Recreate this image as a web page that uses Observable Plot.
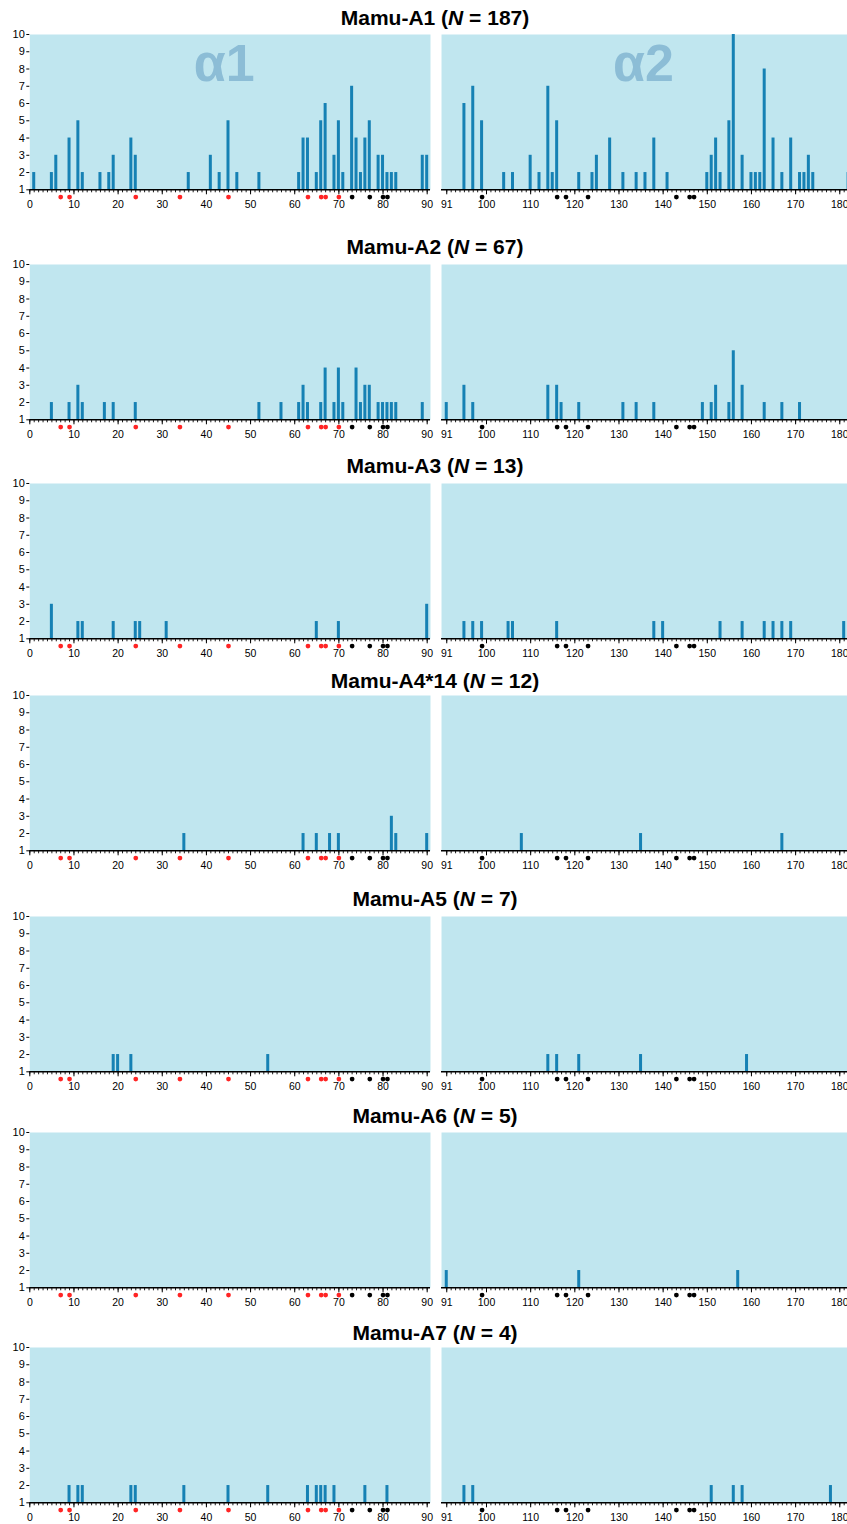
<!DOCTYPE html>
<html>
<head>
<meta charset="utf-8">
<script src="https://cdn.jsdelivr.net/npm/d3@7"></script>
<script src="https://cdn.jsdelivr.net/npm/@observablehq/plot@0.6"></script>
<style>
  html, body { margin: 0; padding: 0; background: #fff; overflow: hidden; }
  #root { position: relative; width: 847px; height: 1524px; font-family: "Liberation Sans", Arial, sans-serif; }
  .title { position: absolute; transform: translate(-50%, -50%); white-space: nowrap; font-weight: bold; font-size: 21px; color: #000; }
</style>
</head>
<body>
<div id="root"></div>
<script>
// ---------------- data ----------------
const alleles = ["Mamu-A1", "Mamu-A2", "Mamu-A3", "Mamu-A4*14", "Mamu-A5", "Mamu-A6", "Mamu-A7"];
const sampleN = [187, 67, 13, 12, 7, 5, 4];

const a1Sites = [1,5,6,9,11,12,16,18,19,23,24,36,41,43,45,47,52,61,62,63,65,66,67,69,70,71,73,74,75,76,77,79,80,81,82,83,89,90,
                 95,97,99,104,106,110,112,114,115,116,121,124,125,128,131,134,136,138,141,150,151,152,153,155,156,158,160,161,162,163,165,167,169,171,172,173,174,182];
const a1Counts = [2,2,3,4,5,2,2,2,3,4,3,2,3,2,5,2,2,2,4,4,2,5,6,3,5,2,7,4,2,4,5,3,3,2,2,2,3,3,
                  6,7,5,2,2,3,2,7,2,5,2,2,3,4,2,2,2,4,2,2,3,4,2,5,10,3,2,2,2,8,4,2,4,2,2,3,2,2];

const a2Sites = [5,9,11,12,17,19,24,52,57,61,62,63,66,67,69,70,71,74,75,76,77,79,80,81,82,83,89,
                 91,95,97,114,116,117,121,131,134,138,149,151,152,155,156,158,163,167,171];
const a2Counts = [2,2,3,2,2,2,2,2,2,2,3,2,2,4,2,4,2,4,2,3,3,2,2,2,2,2,2,
                  2,3,2,3,3,2,2,2,2,2,2,2,3,2,5,3,2,2,2];

const a3Sites = [5,11,12,19,24,25,31,65,70,90,
                 95,97,99,105,106,116,138,140,153,158,163,165,167,169,181];
const a3Counts = [3,2,2,2,2,2,2,2,2,3,
                  2,2,2,2,2,2,2,2,2,2,2,2,2,2,2];

const a4Sites = [35,62,65,68,70,82,83,90,108,135,167];
const a4Counts = [2,2,2,2,2,3,2,2,2,2,2];

const a5Sites = [19,20,23,54,114,116,121,135,159];
const a5Counts = [2,2,2,2,2,2,2,2,2];

const a6Sites = [91,121,157];
const a6Counts = [2,2,2];

const a7Sites = [9,11,12,23,24,35,45,54,63,65,66,67,69,76,81,95,97,151,156,158,178];
const a7Counts = [2,2,2,2,2,2,2,2,2,2,2,2,2,2,2,2,2,2,2,2,2];

const redSites = [7,9,24,34,45,63,66,67,70];
const blackSites = [73,77,80,81,99,116,118,123,143,146,147];

const leftTickLabels = [0,10,20,30,40,50,60,70,80,90];
const rightTickLabels = [91,100,110,120,130,140,150,160,170,180];
const yTickLabels = [1,2,3,4,5,6,7,8,9,10];
const domainLabels = ["α1", "α2"];

const allSites = [a1Sites, a2Sites, a3Sites, a4Sites, a5Sites, a6Sites, a7Sites];
const allCounts = [a1Counts, a2Counts, a3Counts, a4Counts, a5Counts, a6Counts, a7Counts];

// ---------------- layout / style ----------------
const panelTops = [34.0, 263.7, 483.4, 695.4, 915.7, 1131.7, 1347.4];
const titleCenters = [18, 247, 466, 681, 899, 1116, 1333];
const plotH = 155.3, mTop = 10, mBottom = 30;
const bgColor = "#c0e6ef", barColor = "#1681b4", alphaColor = "#8cbdd6";
const redColor = "#ff2424";
const font = "'Liberation Sans', Arial, sans-serif";

const root = document.getElementById("root");

function half(side, sites, counts, withAlpha) {
  const isLeft = side === "left";
  const data = sites.map((s, i) => ({s, c: counts[i]})).filter(d => isLeft ? d.s <= 90.5 : d.s > 90.5);
  const minor = isLeft ? d3.range(0, 91) : d3.range(91, 182);
  const major = isLeft ? leftTickLabels : rightTickLabels;
  const reds = redSites.filter(s => isLeft ? s <= 90.5 : s > 90.5);
  const blacks = blackSites.filter(s => isLeft ? s <= 90.5 : s > 90.5);
  const marks = [
    Plot.frame({fill: bgColor, stroke: "none"}),
    Plot.rectY(data, {x1: d => d.s - 0.34, x2: d => d.s + 0.34, y1: 1, y2: "c", fill: barColor, clip: true}),
    Plot.ruleY([1], {stroke: "#000", strokeWidth: 1.6}),
    Plot.axisX(minor, {anchor: "bottom", tickSize: 3, tickFormat: () => "", strokeWidth: 0.9, label: null}),
    Plot.axisX(major, {anchor: "bottom", tickSize: 5, tickPadding: 6, fontSize: 10.5, tickFormat: d => String(d), label: null}),
    Plot.dot(reds, {x: d => d, y: () => 1, dy: 7.3, r: 2.4, fill: redColor, stroke: "none"}),
    Plot.dot(blacks, {x: d => d, y: () => 1, dy: 7.3, r: 2.4, fill: "#000", stroke: "none"})
  ];
  if (isLeft) {
    marks.push(Plot.axisY(yTickLabels, {anchor: "left", tickSize: 3, tickPadding: 2, fontSize: 11, label: null}));
  }
  if (withAlpha) {
    marks.push(Plot.text([isLeft ? domainLabels[0] : domainLabels[1]], {
      frameAnchor: "top", text: d => d, dy: 47, dx: isLeft ? -6 : -1, lineAnchor: "bottom",
      fontSize: 52, fontWeight: "bold", fill: alphaColor
    }));
  }
  return Plot.plot({
    width: isLeft ? 430 : 406,
    height: mTop + plotH + mBottom,
    marginTop: mTop, marginBottom: mBottom,
    marginLeft: isLeft ? 29.3 : 0, marginRight: 0,
    x: {domain: isLeft ? [0, 90.75] : [89.81, 181.75], axis: null},
    y: {domain: [1, 10], axis: null},
    style: {overflow: "visible", fontFamily: font, background: "transparent", color: "#000"},
    marks
  });
}

alleles.forEach((name, i) => {
  const t = document.createElement("div");
  t.className = "title";
  t.style.left = "435px";
  t.style.top = titleCenters[i] + "px";
  t.innerHTML = `${name} (<i>N</i> = ${sampleN[i]})`;
  root.appendChild(t);

  const L = half("left", allSites[i], allCounts[i], i === 0);
  L.style.position = "absolute";
  L.style.left = "0px";
  L.style.top = (panelTops[i] - mTop) + "px";
  root.appendChild(L);

  const R = half("right", allSites[i], allCounts[i], i === 0);
  R.style.position = "absolute";
  R.style.left = "441px";
  R.style.top = (panelTops[i] - mTop) + "px";
  root.appendChild(R);
});
</script>
</body>
</html>
